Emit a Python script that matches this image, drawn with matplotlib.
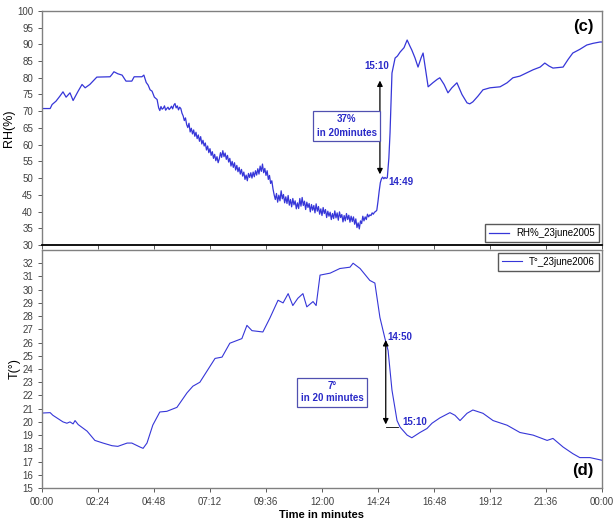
import numpy as np
import matplotlib
matplotlib.use('Agg')
import matplotlib.pyplot as plt

plt.rcParams['font.family'] = ['Liberation Sans', 'DejaVu Sans']

# relative humidity, 23 June 2005 (time in minutes since 00:00)
# morning part, logged coarsely
rh_am_t = [0, 21, 26, 36, 46, 54, 62, 72, 80, 93, 103, 111, 123, 141, 175, 180, 185,
           195, 206, 216, 231, 237, 257, 262, 268, 273, 278, 283, 289, 296]
rh_am = [70.8, 70.8, 72.0, 73.0, 74.5, 75.8, 74.2, 75.5, 73.2, 76.0, 78.0, 77.0, 78.0,
         80.2, 80.3, 81.0, 81.8, 81.2, 80.8, 79.0, 79.0, 80.3, 80.3, 80.8, 78.6, 77.8,
         76.4, 76.0, 74.2, 73.5]

# noisy stretch, every 3 minutes from 05:00 to 14:48
rh_mid_t = np.arange(300, 889, 3)
rh_mid = [
    71.0, 70.2, 71.4, 70.6, 70.9, 71.6, 70.3, 70.8, 71.2, 70.5,
    70.9, 71.5, 70.7, 71.8, 72.3, 71.0, 71.6, 70.4, 71.2, 70.8,
    69.4, 68.6, 67.2, 68.0, 66.0, 65.1, 66.4, 63.8, 64.9, 63.2,
    64.4, 62.5, 63.7, 61.8, 62.9, 61.0, 62.4, 60.2, 61.3, 59.6,
    60.5, 58.4, 59.6, 57.6, 58.8, 56.8, 57.9, 55.9, 57.1, 55.2,
    56.4, 54.6, 55.8, 57.6, 56.2, 58.2, 56.4, 57.5, 55.6, 56.8,
    54.8, 55.9, 53.6, 55.0, 53.2, 54.6, 52.4, 53.8, 51.9, 53.2,
    51.2, 52.6, 50.6, 51.8, 49.6, 50.9, 49.2, 51.4, 50.2, 51.6,
    50.0, 51.8, 50.4, 52.2, 50.9, 52.8, 51.2, 53.6, 52.0, 54.2,
    51.6, 52.9, 50.8, 52.2, 49.6, 50.8, 48.4, 49.2, 46.8, 45.0,
    43.6, 45.4, 42.8, 44.9, 43.2, 46.2, 43.8, 45.1, 42.6, 44.4,
    42.4, 44.8, 41.9, 43.6, 41.4, 43.9, 42.0, 43.2, 40.8, 42.6,
    40.9, 43.9, 41.6, 44.2, 41.8, 43.1, 40.6, 42.8, 41.2, 42.4,
    39.9, 42.1, 40.4, 41.8, 39.6, 42.3, 40.1, 41.5, 39.2, 40.8,
    38.8, 41.2, 39.4, 40.6, 38.2, 40.1, 38.6, 39.8, 37.6, 39.4,
    37.9, 40.2, 38.1, 39.6, 37.4, 39.9, 38.2, 39.1, 36.9, 38.8,
    37.2, 39.4, 37.6, 38.9, 36.8, 38.6, 37.0, 38.4, 36.2, 37.8,
    35.2, 36.6, 34.8, 37.2, 36.4, 38.6, 37.2, 38.4, 37.6, 39.2,
    38.4, 39.0, 38.8, 39.6, 39.2, 39.8, 40.0, 40.4, 43.0, 46.0,
    48.6, 49.8, 50.3, 49.8, 50.2, 49.9, 50.1]

# jump and afternoon / evening
rh_pm_t = [892, 895, 900, 908, 914, 921, 931, 939, 946, 951, 959, 967, 975, 980, 987,
           993, 1005, 1016, 1023, 1034, 1044, 1054, 1067, 1080, 1093, 1100, 1108, 1121,
           1134, 1152, 1178, 1196, 1211, 1229, 1247, 1263, 1281, 1293, 1304, 1314,
           1340, 1353, 1365, 1383, 1401, 1417, 1435, 1440]
rh_pm = [56.0, 63.5, 81.4, 85.9, 86.5, 87.7, 89.0, 91.3, 89.5, 88.3, 86.0, 83.2, 86.0,
         87.4, 82.0, 77.3, 78.5, 79.5, 80.0, 78.0, 75.5, 77.0, 78.5, 75.0, 72.5, 72.2,
         72.8, 74.5, 76.4, 77.0, 77.3, 78.5, 80.0, 80.5, 81.5, 82.4, 83.2, 84.4, 83.5,
         82.9, 83.2, 85.5, 87.4, 88.5, 89.8, 90.3, 90.7, 90.7]

# air temperature, same day
t_t = [0, 21, 28, 54, 64, 72, 80, 85, 93, 116, 136, 157, 180, 195, 219, 231, 252, 260,
       270, 285, 303, 321, 347, 373, 388, 406, 445, 463, 483, 514, 527, 540, 568, 586,
       607, 620, 633, 645, 658, 671, 681, 697, 705, 715, 741, 766, 792, 800, 818, 843,
       856, 869, 882, 890, 900, 913, 921, 939, 951, 972, 990, 1003, 1023, 1049, 1062,
       1075, 1093, 1108, 1134, 1160, 1196, 1229, 1263, 1299, 1314, 1340, 1365, 1383,
       1409, 1440]
temp = [20.67, 20.7, 20.5, 20.0, 19.9, 20.0, 19.85, 20.1, 19.8, 19.3, 18.6, 18.4, 18.2,
        18.15, 18.4, 18.4, 18.1, 18.0, 18.4, 19.76, 20.75, 20.8, 21.1, 22.2, 22.7, 23.0,
        24.8, 24.9, 25.95, 26.3, 27.3, 26.9, 26.8, 27.85, 29.2, 29.0, 29.7, 28.8, 29.35,
        29.7, 28.7, 29.1, 28.8, 31.1, 31.25, 31.6, 31.7, 32.0, 31.6, 30.7, 30.5, 27.9,
        26.3, 25.4, 22.4, 20.1, 19.6, 19.0, 18.8, 19.2, 19.5, 19.9, 20.3, 20.7, 20.5,
        20.1, 20.65, 20.9, 20.65, 20.1, 19.75, 19.2, 19.0, 18.6, 18.75, 18.1, 17.6, 17.3,
        17.3, 17.1]

xticks = [0, 144, 288, 432, 576, 720, 864, 1008, 1152, 1296, 1440]
xlabels = ['00:00', '02:24', '04:48', '07:12', '09:36', '12:00', '14:24', '16:48',
           '19:12', '21:36', '00:00']

rh_t = np.concatenate([rh_am_t, rh_mid_t, rh_pm_t])
rh = np.concatenate([rh_am, rh_mid, rh_pm])

line_col = '#3636d8'
txt_col = '#2a2ac8'
frame_col = '#808080'

fig = plt.figure(figsize=(6.13, 5.19), dpi=100)
ax1 = fig.add_axes([0.0685, 0.528, 0.9135, 0.451])
ax2 = fig.add_axes([0.0685, 0.0597, 0.9135, 0.4586])

for ax in (ax1, ax2):
    for s in ax.spines.values():
        s.set_color(frame_col)
        s.set_linewidth(1.0)
    ax.set_xlim(0, 1440)
    ax.set_xticks(xticks)
    ax.tick_params(direction='out', length=3, width=0.6, colors='#404040', labelsize=7)

# --- RH panel
ax1.plot(rh_t, rh, color=line_col, lw=0.9, label='RH%_23june2005')
ax1.set_ylim(30, 100)
ax1.set_yticks(np.arange(30, 101, 5))
ax1.set_xticklabels([])
ax1.spines['bottom'].set_color('black')
ax1.spines['bottom'].set_linewidth(1.3)
ax1.set_ylabel('RH(%)', fontsize=9, labelpad=1)
ax1.text(0.985, 0.965, '(c)', transform=ax1.transAxes, ha='right', va='top',
         fontsize=12, fontweight='bold')
ax1.annotate('', xy=(869, 50.3), xytext=(869, 80.0),
             arrowprops=dict(arrowstyle='<|-|>', color='black', lw=0.9,
                             mutation_scale=8))
ax1.text(860, 82.5, '15:10', color=txt_col, fontsize=7, fontweight='bold', ha='center')
ax1.text(890, 48.9, '14:49', color=txt_col, fontsize=7, fontweight='bold', va='center')
ax1.text(784, 65.6, '37%\nin 20minutes', color=txt_col, fontsize=7, fontweight='bold',
         ha='center', va='center', linespacing=1.5,
         bbox=dict(boxstyle='square,pad=0.35', fc='white', ec='#5050b0', lw=0.9))
leg1 = ax1.legend(loc='lower right', fontsize=7, frameon=True, fancybox=False,
                  handlelength=2.0, borderaxespad=0.3)
leg1.get_frame().set_edgecolor('#303030')

# --- temperature panel
ax2.plot(t_t, temp, color=line_col, lw=0.8, label='T°_23june2006')
ax2.set_ylim(15, 33)
ax2.set_yticks(np.arange(15, 33, 1))
ax2.set_xticklabels(xlabels)
ax2.set_ylabel('T(°)', fontsize=9, labelpad=1)
ax2.set_xlabel('Time in minutes', fontsize=8, fontweight='bold', labelpad=2)
ax2.text(0.985, 0.04, '(d)', transform=ax2.transAxes, ha='right', va='bottom',
         fontsize=12, fontweight='bold')
ax2.annotate('', xy=(884, 19.6), xytext=(884, 26.4),
             arrowprops=dict(arrowstyle='<|-|>', color='black', lw=0.9,
                             mutation_scale=8))
ax2.plot([884, 915], [19.6, 19.6], color='black', lw=0.6)
ax2.text(888, 26.4, '14:50', color=txt_col, fontsize=7, fontweight='bold', va='center')
ax2.text(926, 20.0, '15:10', color=txt_col, fontsize=7, fontweight='bold', va='center')
ax2.text(746, 22.25, '7°\nin 20 minutes', color=txt_col, fontsize=7, fontweight='bold',
         ha='center', va='center', linespacing=1.3,
         bbox=dict(boxstyle='square,pad=0.35', fc='white', ec='#5050b0', lw=0.9))
leg2 = ax2.legend(loc='upper right', fontsize=7, frameon=True, fancybox=False,
                  handlelength=2.0, borderaxespad=0.3)
leg2.get_frame().set_edgecolor('#303030')

fig.savefig('out.png', dpi=100)
